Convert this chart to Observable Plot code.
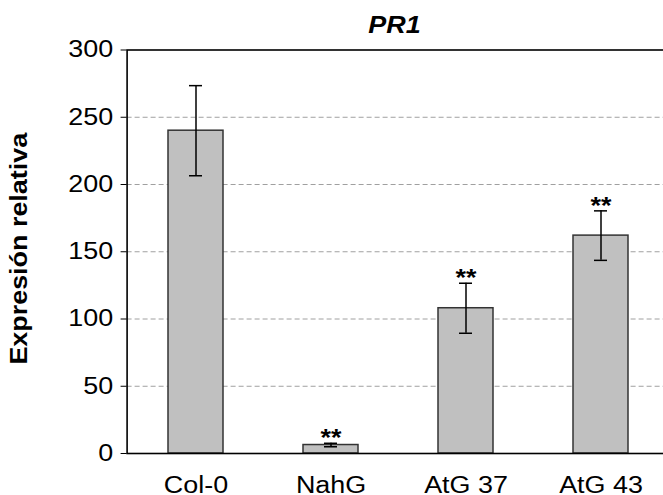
<!DOCTYPE html>
<html>
<head>
<meta charset="utf-8">
<script src="https://cdn.jsdelivr.net/npm/d3@7"></script>
<script src="https://cdn.jsdelivr.net/npm/@observablehq/plot@0.6"></script>
<style>
  html, body { margin: 0; padding: 0; background: #fff; overflow: hidden; }
</style>
</head>
<body>
<div id="chart"></div>
<script>
// PR1 relative expression per genotype (mean ± error)
const genotypes = ["Col-0", "NahG", "AtG 37", "AtG 43"];
const expression = [240, 6.3, 108, 162];
const errors = [33.5, 1.3, 18.6, 18.4];
const significance = ["", "**", "**", "**"];
const yTicks = [0, 50, 100, 150, 200, 250, 300];
const gridValues = [50, 100, 150, 200, 250];
const title = "PR1";
const yLabel = "Expresión relativa";

const rows = genotypes.map((g, i) => ({
  genotype: g,
  value: expression[i],
  lo: expression[i] - errors[i],
  hi: expression[i] + errors[i],
  sig: significance[i]
}));

const font = "'Liberation Sans', Arial, Helvetica, sans-serif";

const chart = Plot.plot({
  width: 663,
  height: 495,
  marginLeft: 126.6,
  marginRight: -6.4,
  marginTop: 49.5,
  marginBottom: 42,
  style: {fontFamily: font, fontSize: "23px", color: "#000", background: "#fff", overflow: "hidden"},
  x: {domain: genotypes, paddingInner: 0.59, paddingOuter: 0.295, label: null},
  y: {domain: [0, 300], label: null},
  marks: [
    Plot.ruleY(gridValues, {stroke: "#a0a0a0", strokeDasharray: "5,3", strokeWidth: 1}),
    Plot.barY(rows, {x: "genotype", y: "value", fill: "#c0c0c0", stroke: "#333", strokeWidth: 1.5, inset: 0}),
    Plot.ruleX(rows, {x: "genotype", y1: "lo", y2: "hi", stroke: "#000", strokeWidth: 1.5}),
    Plot.tickY(rows, {x: "genotype", y: "lo", stroke: "#000", strokeWidth: 1.5, inset: 21}),
    Plot.tickY(rows, {x: "genotype", y: "hi", stroke: "#000", strokeWidth: 1.5, inset: 21}),
    Plot.text(rows.filter(d => d.sig), {x: "genotype", y: "hi", text: "sig", lineAnchor: "bottom", dy: 3, fontWeight: "bold"}),
    Plot.frame({stroke: "#000", strokeWidth: 1.6}),
    Plot.axisY(yTicks, {tickSize: 6, tickPadding: 8, label: null}),
    Plot.axisX({tickSize: 0, tickPadding: 23, label: null}),
    Plot.text([title], {frameAnchor: "top", lineAnchor: "bottom", dy: -16.8, dx: -4, fontWeight: "bold", fontStyle: "italic"}),
    Plot.text([yLabel], {frameAnchor: "left", textAnchor: "middle", rotate: -90, dx: -107.5, dy: -3, fontWeight: "bold"})
  ]
});

// widen the lettering slightly around each label's own anchor
chart.querySelectorAll("text").forEach(t => {
  const tr = t.getAttribute("transform") || "";
  t.setAttribute("transform", (tr + " scale(1.17,1)").trim());
});

document.getElementById("chart").appendChild(chart);
</script>
</body>
</html>
